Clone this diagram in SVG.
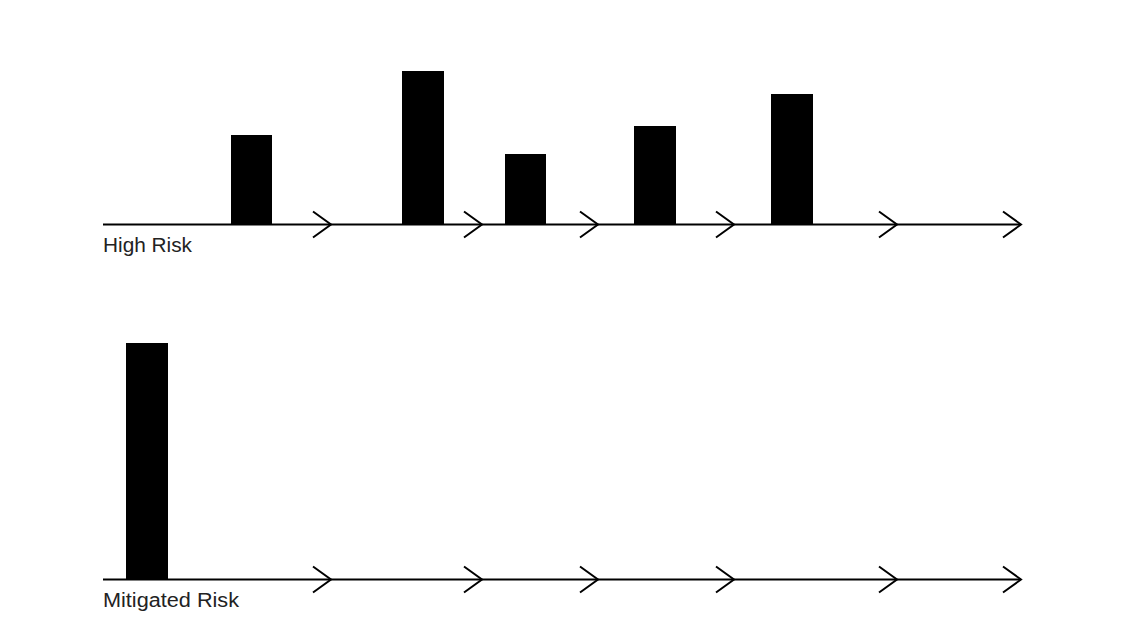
<svg xmlns="http://www.w3.org/2000/svg" width="1121" height="632" viewBox="0 0 1121 632">
<style>
.axis{stroke:#000;stroke-width:2;fill:none}
.chev{stroke:#000;stroke-width:2;fill:none;stroke-linejoin:miter}
.bar{fill:#000}
.lbl{font-family:"Liberation Sans",Arial,sans-serif;font-size:20px;fill:#222}
</style>
<rect width="1121" height="632" fill="#fff"/>
<defs>
<path id="chev" class="chev" d="M-18,-13 L0,0 L-18,13"/>
</defs>
<g id="connectors">
<line class="axis" x1="103" y1="224.5" x2="1021" y2="224.5"/>
<use href="#chev" x="331" y="224.5"/>
<use href="#chev" x="482" y="224.5"/>
<use href="#chev" x="598" y="224.5"/>
<use href="#chev" x="734" y="224.5"/>
<use href="#chev" x="897" y="224.5"/>
<use href="#chev" x="1021" y="224.5"/>
<line class="axis" x1="103" y1="579.5" x2="1021" y2="579.5"/>
<use href="#chev" x="331" y="579.5"/>
<use href="#chev" x="482" y="579.5"/>
<use href="#chev" x="598" y="579.5"/>
<use href="#chev" x="734" y="579.5"/>
<use href="#chev" x="897" y="579.5"/>
<use href="#chev" x="1021" y="579.5"/>
</g>
<g id="bar1"><rect class="bar" x="231" y="135" width="41" height="90"/></g>
<g id="bar2"><rect class="bar" x="402" y="71" width="42" height="154"/></g>
<g id="bar3"><rect class="bar" x="505" y="154" width="41" height="71"/></g>
<g id="bar4"><rect class="bar" x="634" y="126" width="42" height="99"/></g>
<g id="bar5"><rect class="bar" x="771" y="94" width="42" height="131"/></g>
<g id="bar6"><rect class="bar" x="126" y="343" width="42" height="237"/></g>
<g id="label-high"><text class="lbl" x="103" y="252" textLength="89" lengthAdjust="spacingAndGlyphs">High Risk</text></g>
<g id="label-mitigated"><text class="lbl" x="103" y="607" textLength="136" lengthAdjust="spacingAndGlyphs">Mitigated Risk</text></g>
</svg>
